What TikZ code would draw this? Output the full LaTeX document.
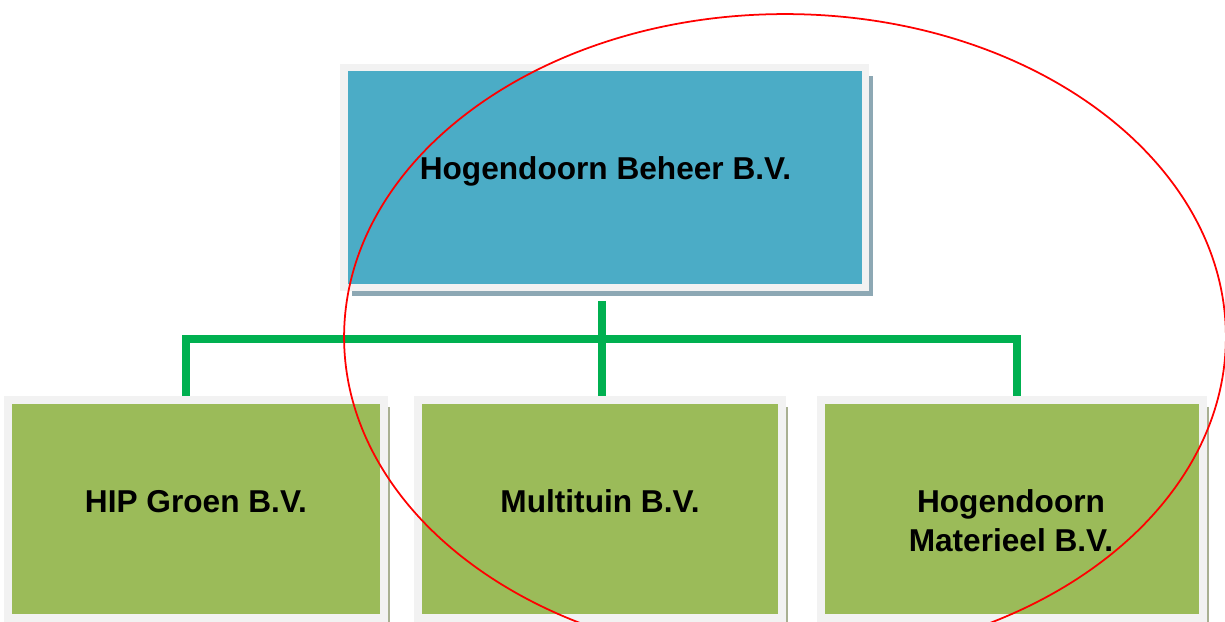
\documentclass[tikz,border=0pt]{standalone}
\usepackage{fontspec}
\setmainfont{Liberation Sans}
\usepackage{tikz}
\usetikzlibrary{positioning,shadows}

\definecolor{kopblauw}{HTML}{4BACC6}
\definecolor{bvgroen}{HTML}{9BBB59}
\definecolor{randgrijs}{HTML}{F2F2F2}
\definecolor{lijngroen}{HTML}{00B050}
\definecolor{schaduwblauw}{HTML}{8DA8B4}
\definecolor{schaduwgroen}{HTML}{A9B092}

\tikzset{
  box/.style={rectangle, draw=randgrijs, line width=4.5pt, inner sep=0pt},
  holding/.style={box, fill=kopblauw, minimum width=10.43cm, minimum height=4.4cm,
    drop shadow={shadow xshift=4.3pt, shadow yshift=-5pt, opacity=1, fill=schaduwblauw}},
  dochter/.style={box, fill=bvgroen, minimum height=4.36cm,
    drop shadow={shadow xshift=3.6pt, shadow yshift=-4pt, opacity=1, fill=schaduwgroen}},
  naam/.style={font=\bfseries\fontsize{18}{22}\selectfont, align=center},
  lijn/.style={draw=lijngroen, line width=4pt, line join=miter},
  kring/.style={draw=red, line width=1pt}
}

\begin{document}
\begin{tikzpicture}[x=0.02cm, y=-0.02cm]
  \useasboundingbox (0,0) rectangle (1225,622);
  \clip (0,0) rectangle (1225,622);

  % bedrijven
  \node (beheer) [holding] at (604.75,177.5) {};
  \node (hip) [dochter, minimum width=7.52cm] at (196,509) {};
  \node (multi) [dochter, minimum width=7.28cm] at (600,509) {};
  \node (materieel) [dochter, minimum width=7.64cm] at (1012,509) {};

  \node (beheerT) [naam, anchor=base] at (605.5,179) {Hogendoorn Beheer B.V.};
  \node (hipT) [naam, anchor=base] at (196,512) {HIP Groen B.V.};
  \node (multiT) [naam, anchor=base] at (600,512) {Multituin B.V.};
  \node (materieelT) [naam] at (1011,521) {Hogendoorn\\Materieel B.V.};

  % verbindingen
  \coordinate (balkL) at (186,339);
  \coordinate (balkR) at (1017,339);
  \coordinate (balkM) at (602,339);
  \draw[lijn] (balkM |- beheer.south) ++(0,9.5) -- (balkM |- multi.north);
  \draw[lijn] (balkL |- hip.north) -- (balkL) -- (balkR) -- (balkR |- materieel.north);

  % rode kring
  \draw[kring] (785,337) ellipse [x radius=8.82cm, y radius=6.46cm];
\end{tikzpicture}
\end{document}
